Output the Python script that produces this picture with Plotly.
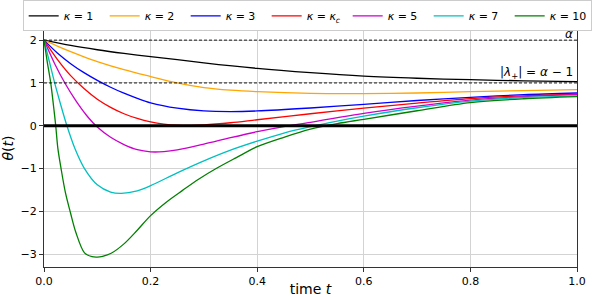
import plotly.graph_objects as go

alpha = 2.0
lam_plus = alpha - 1.0

labels = ["<i>κ</i> = 1", "<i>κ</i> = 2", "<i>κ</i> = 3", "<i>κ</i> = <i>κ</i><sub><i>c</i></sub>",
          "<i>κ</i> = 5", "<i>κ</i> = 7", "<i>κ</i> = 10"]
colors = ["black", "orange", "blue", "red", "#cc00cc", "#00c0c0", "green"]

t_k1 = [0, 0.05, 0.1, 0.15, 0.2, 0.25, 0.3, 0.4, 0.5, 0.6, 0.7, 0.8, 0.9, 1.0]
th_k1 = [2, 1.875, 1.775, 1.69, 1.615, 1.545, 1.47, 1.34, 1.24, 1.16, 1.11, 1.075, 1.05, 1.03]

t_k2 = [0, 0.025, 0.05, 0.075, 0.1, 0.15, 0.2, 0.25, 0.3, 0.35, 0.4, 0.5, 0.6, 0.7, 0.8, 0.9, 1.0]
th_k2 = [2, 1.86, 1.73, 1.61, 1.5, 1.31, 1.15, 1.0, 0.89, 0.83, 0.795, 0.755, 0.75, 0.765, 0.795, 0.82, 0.845]

t_k3 = [0, 0.025, 0.05, 0.075, 0.1, 0.125, 0.15, 0.175, 0.2, 0.25, 0.3, 0.35, 0.4, 0.5, 0.6, 0.7, 0.8, 0.9, 1.0]
th_k3 = [2, 1.7, 1.45, 1.24, 1.06, 0.9, 0.76, 0.64, 0.535, 0.41, 0.345, 0.33, 0.345, 0.415, 0.5, 0.59, 0.665, 0.725, 0.765]

t_kc = [0, 0.025, 0.05, 0.075, 0.1, 0.125, 0.15, 0.175, 0.2, 0.225, 0.25, 0.275, 0.3, 0.35, 0.4, 0.5, 0.6, 0.7, 0.8, 0.9, 1.0]
th_kc = [2, 1.55, 1.17, 0.87, 0.62, 0.43, 0.28, 0.17, 0.09, 0.04, 0.015, 0.01, 0.02, 0.07, 0.14, 0.28, 0.41, 0.53, 0.635, 0.7, 0.74]

t_k5 = [0, 0.02, 0.04, 0.06, 0.08, 0.1, 0.125, 0.15, 0.175, 0.2, 0.225, 0.25, 0.3, 0.35, 0.4, 0.45, 0.5, 0.6, 0.7, 0.8, 0.9, 1.0]
th_k5 = [2, 1.45, 0.98, 0.58, 0.24, -0.03, -0.27, -0.44, -0.56, -0.61, -0.605, -0.565, -0.43, -0.28, -0.14, -0.02, 0.08, 0.29, 0.46, 0.6, 0.68, 0.725]

t_k7 = [0, 0.01, 0.02, 0.03, 0.043, 0.058, 0.076, 0.1, 0.125, 0.145, 0.175, 0.2, 0.25, 0.3, 0.35, 0.4, 0.45, 0.5, 0.55, 0.6, 0.7, 0.8, 0.9, 1.0]
th_k7 = [2, 1.5, 1.0, 0.55, 0, -0.53, -1.0, -1.38, -1.55, -1.58, -1.52, -1.4, -1.1, -0.82, -0.57, -0.36, -0.17, -0.02, 0.11, 0.225, 0.42, 0.575, 0.66, 0.7]

t_k10 = [0, 0.006, 0.0126, 0.018, 0.022, 0.026, 0.032, 0.04, 0.05, 0.06, 0.076, 0.09, 0.1, 0.11, 0.126, 0.15,
         0.175, 0.2, 0.23, 0.26, 0.29, 0.323, 0.36, 0.4, 0.45, 0.5, 0.55, 0.6, 0.7, 0.8, 0.9, 1.0]
th_k10 = [2, 1.5, 1.0, 0.45, 0, -0.53, -1.0, -1.55, -2.05, -2.5, -2.97, -3.06, -3.07, -3.05, -2.98, -2.76,
          -2.44, -2.1, -1.78, -1.51, -1.25, -1.0, -0.75, -0.49, -0.27, -0.08, 0.05, 0.15, 0.35, 0.54, 0.63, 0.68]

series_t = [t_k1, t_k2, t_k3, t_kc, t_k5, t_k7, t_k10]
series_th = [th_k1, th_k2, th_k3, th_kc, th_k5, th_k7, th_k10]

x_ticks = [0.0, 0.2, 0.4, 0.6, 0.8, 1.0]
y_ticks = [-3, -2, -1, 0, 1, 2]

FONT = "DejaVu Sans"

fig = go.Figure()
for t, th, lab, col in zip(series_t, series_th, labels, colors):
    fig.add_trace(go.Scatter(x=t, y=th, mode="lines", name=lab,
                             line=dict(color=col, width=1.3, shape="spline", smoothing=0.9)))

# reference lines
fig.add_shape(type="line", xref="x domain", yref="y", x0=0, x1=1, y0=alpha, y1=alpha,
              line=dict(color="black", width=0.9, dash="3px,2px"), layer="above")
fig.add_shape(type="line", xref="x domain", yref="y", x0=0, x1=1, y0=lam_plus, y1=lam_plus,
              line=dict(color="black", width=0.9, dash="3px,2px"), layer="above")
fig.add_shape(type="line", xref="x domain", yref="y", x0=0, x1=1, y0=0, y1=0,
              line=dict(color="black", width=3), layer="above")

fig.add_annotation(x=1.0, y=alpha, xref="x", yref="y", text="<i>α</i>", showarrow=False,
                   xanchor="right", yanchor="bottom", xshift=-2, yshift=-3,
                   font=dict(family=FONT, size=12, color="black"))
fig.add_annotation(x=1.0, y=lam_plus, xref="x", yref="y", text="|<i>λ</i><sub>+</sub>| = <i>α</i> − 1",
                   showarrow=False, xanchor="right", yanchor="bottom", xshift=-2, yshift=0,
                   font=dict(family=FONT, size=12, color="black"))

axis_common = dict(showgrid=True, gridcolor="#d3d3d3", gridwidth=1, zeroline=False,
                   showline=True, linecolor="#333", linewidth=1, mirror=True,
                   ticks="outside", ticklen=4, tickcolor="#333",
                   tickfont=dict(family=FONT, size=11, color="black"))

fig.update_xaxes(range=[0, 1], tickvals=x_ticks, ticktext=[f"{v:.1f}" for v in x_ticks],
                 title=dict(text="time <i>t</i>", font=dict(family=FONT, size=14, color="black"), standoff=1),
                 **axis_common)
fig.update_yaxes(range=[-3.3, 2.26], tickvals=y_ticks,
                 title=dict(text="<i>θ</i>(<i>t</i>)", font=dict(family=FONT, size=14, color="black"), standoff=3),
                 **axis_common)

fig.update_layout(
    width=595, height=297,
    margin=dict(l=44, r=18, t=29, b=30, autoexpand=False),
    plot_bgcolor="white", paper_bgcolor="white",
    font=dict(family=FONT, size=11, color="black"),
    legend=dict(orientation="h", x=-0.04, y=1.12, xanchor="left", yanchor="top",
                bordercolor="#cccccc", borderwidth=1, bgcolor="white",
                font=dict(family=FONT, size=11), entrywidth=36, itemwidth=30,
                tracegroupgap=0),
)

fig.write_html("out.html", config={"displayModeBar": False},
               post_script="document.body.style.margin='0';document.body.style.overflow='hidden';")
